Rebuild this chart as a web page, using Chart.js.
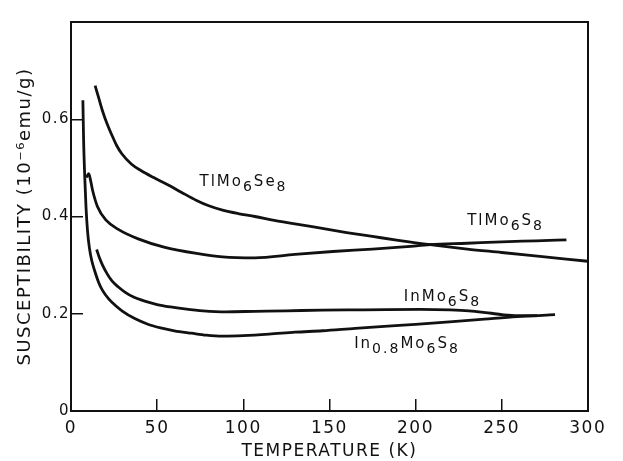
<!DOCTYPE html>
<html>
<head>
<meta charset="utf-8">
<script src="https://cdn.jsdelivr.net/npm/chart.js@4.4.1/dist/chart.umd.min.js"></script>
<style>
  html, body { margin: 0; padding: 0; background: #ffffff; }
  canvas { display: block; }
</style>
</head>
<body>
<canvas id="c" width="623" height="461"></canvas>
<script>
// ---- Data (temperature in K, susceptibility in 10^-6 emu/g) ----
const tlSeT   = [14, 16, 18.3, 21, 23.9, 26.5, 29.5, 35, 40.8, 48, 55.9, 64, 72.9, 80, 88, 97, 106.8, 118, 130, 145, 160, 175, 190, 208.5, 230, 250, 275, 300];
const tlSeChi = [0.669, 0.645, 0.617, 0.590, 0.566, 0.546, 0.529, 0.508, 0.494, 0.480, 0.466, 0.450, 0.433, 0.422, 0.413, 0.406, 0.400, 0.392, 0.385, 0.376, 0.367, 0.359, 0.351, 0.342, 0.333, 0.326, 0.317, 0.308];

const tlST    = [8.9, 10.3, 11.5, 12.6, 15.4, 20.2, 27.7, 39, 54, 72.9, 88, 106.8, 130, 152, 175, 195, 208.5, 230, 250, 270, 287.6];
const tlSChi  = [0.480, 0.488, 0.472, 0.453, 0.420, 0.393, 0.373, 0.354, 0.337, 0.324, 0.317, 0.315, 0.322, 0.328, 0.333, 0.338, 0.342, 0.345, 0.348, 0.350, 0.352];

const inT     = [14.9, 16.5, 18.3, 21, 23.9, 27.5, 31.5, 36, 42.8, 50, 57.8, 66, 76.7, 90, 106.8, 125, 146, 170, 202.8, 220, 231, 244, 257.5, 270.6];
const inChi   = [0.332, 0.315, 0.300, 0.282, 0.267, 0.255, 0.244, 0.235, 0.226, 0.219, 0.214, 0.210, 0.206, 0.204, 0.205, 0.206, 0.2076, 0.208, 0.209, 0.208, 0.206, 0.201, 0.196, 0.196];

const in08T   = [6.9, 7.3, 8.0, 8.7, 9.6, 10.7, 12, 13.6, 16, 18.3, 22, 25.8, 30, 37, 45, 52, 60, 70, 78.5, 88, 100, 115, 130, 146, 165, 184, 200, 221.6, 240, 259, 281];
const in08Chi = [0.639, 0.56, 0.48, 0.42, 0.37, 0.335, 0.31, 0.29, 0.265, 0.248, 0.23, 0.217, 0.205, 0.19, 0.178, 0.171, 0.165, 0.16, 0.156, 0.154, 0.155, 0.158, 0.162, 0.165, 0.170, 0.1745, 0.178, 0.184, 0.189, 0.194, 0.198];

const xTicks = [0, 50, 100, 150, 200, 250, 300];
const yTicks = [0, 0.2, 0.4, 0.6, 0.8];
const yTickLabels = ['0', '0.2', '0.4', '0.6', ''];

// Curve labels: text pieces (sub = subscript) and anchor in data units
const curveLabels = [
  { pieces: [['TlMo', false], ['6', true], ['Se', false], ['8', true]], x: 74.6, y: 0.4617 },
  { pieces: [['TlMo', false], ['6', true], ['S', false], ['8', true]],  x: 230,  y: 0.382 },
  { pieces: [['InMo', false], ['6', true], ['S', false], ['8', true]],  x: 193.2, y: 0.2269 },
  { pieces: [['In', false], ['0.8', true], ['Mo', false], ['6', true], ['S', false], ['8', true]], x: 164.4, y: 0.1294 }
];

const pairs = (xs, ys) => xs.map((x, i) => ({ x: x, y: ys[i] }));
const INK = '#111111';
const FONT = "'DejaVu Sans', sans-serif";

const spacingPlugin = {
  id: 'spacing',
  beforeDraw(chart) { chart.ctx.letterSpacing = '1.5px'; }
};

const labelPlugin = {
  id: 'curveLabels',
  afterDatasetsDraw(chart) {
    const ctx = chart.ctx;
    const xs = chart.scales.x, ys = chart.scales.y;
    ctx.save();
    ctx.fillStyle = INK;
    ctx.letterSpacing = '2px';
    ctx.textBaseline = 'alphabetic';
    ctx.textAlign = 'left';
    curveLabels.forEach(lbl => {
      let px = xs.getPixelForValue(lbl.x);
      const py = ys.getPixelForValue(lbl.y);
      lbl.pieces.forEach(([t, sub]) => {
        ctx.font = (sub ? '14px ' : '15px ') + FONT;
        ctx.fillText(t, px, py + (sub ? 5 : 0));
        px += ctx.measureText(t).width;
      });
    });
    ctx.restore();
  }
};

new Chart(document.getElementById('c').getContext('2d'), {
  type: 'line',
  data: {
    datasets: [
      { label: 'TlMo6Se8', data: pairs(tlSeT, tlSeChi) },
      { label: 'TlMo6S8', data: pairs(tlST, tlSChi) },
      { label: 'InMo6S8', data: pairs(inT, inChi) },
      { label: 'In0.8Mo6S8', data: pairs(in08T, in08Chi) }
    ]
  },
  options: {
    responsive: false,
    animation: false,
    devicePixelRatio: 1,
    layout: { padding: 0 },
    plugins: { legend: { display: false }, tooltip: { enabled: false } },
    elements: {
      point: { radius: 0 },
      line: { borderWidth: 2.8, borderColor: INK, cubicInterpolationMode: 'monotone', fill: false }
    },
    scales: {
      x: {
        type: 'linear', position: 'bottom', min: 0, max: 300,
        afterBuildTicks: s => { s.ticks = xTicks.map(v => ({ value: v })); },
        ticks: { color: INK, font: { family: FONT, size: 17 }, padding: 19, maxRotation: 0, autoSkip: false },
        grid: { drawOnChartArea: false, drawTicks: true, tickLength: -12, color: INK, lineWidth: 1.5 },
        border: { display: true, color: INK, width: 2 },
        title: { display: true, text: 'TEMPERATURE (K)', color: INK, font: { family: FONT, size: 17, lineHeight: 1 }, padding: { top: 0, bottom: 1 } },
        afterFit: s => { s.height = 50; }
      },
      y: {
        type: 'linear', position: 'left', min: 0, max: 0.8,
        afterBuildTicks: s => { s.ticks = yTicks.map(v => ({ value: v })); },
        ticks: {
          color: INK, font: { family: FONT, size: 15 }, padding: 13,
          callback: (v, i) => yTickLabels[i]
        },
        grid: { drawOnChartArea: false, drawTicks: true, tickLength: -12, color: INK, lineWidth: 1.5 },
        border: { display: true, color: INK, width: 2 },
        title: { display: true, text: 'SUSCEPTIBILITY (10⁻⁶emu/g)', color: INK, font: { family: FONT, size: 18, lineHeight: 1 }, padding: { top: 16, bottom: 0 } },
        afterFit: s => { s.width = 71; }
      },
      x2: {
        type: 'linear', position: 'top', min: 0, max: 300,
        ticks: { display: false },
        grid: { drawOnChartArea: false, drawTicks: false },
        border: { display: true, color: INK, width: 2 },
        afterFit: s => { s.height = 9; }
      },
      y2: {
        type: 'linear', position: 'right', min: 0, max: 0.8,
        ticks: { display: false },
        grid: { drawOnChartArea: false, drawTicks: false },
        border: { display: true, color: INK, width: 2 },
        afterFit: s => { s.width = 21; }
      }
    }
  },
  plugins: [spacingPlugin, labelPlugin]
});
</script>
</body>
</html>
